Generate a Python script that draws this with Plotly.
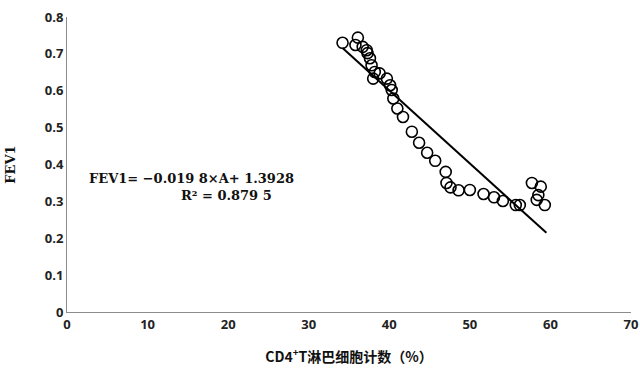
import plotly.graph_objects as go

# Data
cd4_pct = [34.2, 36.1, 35.8, 36.7, 37.2, 37.3, 37.6, 37.8, 38.2, 38.0, 38.8, 39.7,
           40.1, 40.3, 40.5, 41.0, 41.7, 42.8, 43.7, 44.7, 45.7, 47.0, 47.1, 47.6,
           48.6, 50.0, 51.7, 53.0, 54.1, 55.7, 56.2, 57.7, 58.8, 58.3, 58.5, 59.3]
fev1 = [0.730, 0.744, 0.724, 0.719, 0.710, 0.702, 0.688, 0.669, 0.651, 0.633, 0.647, 0.633,
        0.615, 0.602, 0.579, 0.552, 0.529, 0.489, 0.459, 0.432, 0.410, 0.380, 0.350, 0.338,
        0.330, 0.331, 0.320, 0.311, 0.301, 0.290, 0.290, 0.350, 0.340, 0.304, 0.317, 0.290]

slope = -0.0198
intercept = 1.3928
x_ticks = [0, 10, 20, 30, 40, 50, 60, 70]
y_ticks = [0, 0.1, 0.2, 0.3, 0.4, 0.5, 0.6, 0.7, 0.8]
y_tick_labels = ["0", "0.1", "0.2", "0.3", "0.4", "0.5", "0.6", "0.7", "0.8"]

x_line = [min(cd4_pct), max(cd4_pct) + 0.2]
y_line = [slope * v + intercept for v in x_line]

fig = go.Figure()
fig.add_trace(go.Scatter(
    x=cd4_pct, y=fev1, mode="markers",
    marker=dict(symbol="circle-open", size=11, color="black", line=dict(width=1.6, color="black")),
    showlegend=False,
))
fig.add_trace(go.Scatter(
    x=x_line, y=y_line, mode="lines",
    line=dict(color="black", width=2), showlegend=False,
))

tick_font = dict(family="Open Sans", size=13, color="#222222", weight="bold")
serif_font = dict(family="DejaVu Serif", size=13, color="#111111", weight="bold")

W, H = 640, 381
plot_l, plot_r, plot_t, plot_b = 67, 631, 17, 312

fig.update_layout(
    width=W, height=H,
    margin=dict(l=plot_l, r=W - plot_r, t=plot_t, b=H - plot_b),
    paper_bgcolor="white", plot_bgcolor="white",
    xaxis=dict(range=[0, 70], tickvals=x_ticks, showgrid=False, zeroline=False,
               showline=True, linecolor="#8c8c8c", linewidth=1, ticks="",
               tickfont=tick_font, automargin=False, ticklabeloverflow="allow",
               title=dict(text="CD4<sup>+</sup>T淋巴细胞计数（%）",
                          font=dict(family="Noto Sans CJK SC", size=14, color="#111111", weight="bold"),
                          standoff=20)),
    yaxis=dict(range=[0, 0.8], tickvals=y_ticks, ticktext=y_tick_labels, showgrid=False, zeroline=False,
               showline=True, linecolor="#8c8c8c", linewidth=1, ticks="",
               tickfont=tick_font, automargin=False, ticklabeloverflow="allow",
               title=dict(text="FEV1", font=serif_font, standoff=26)),
)

annotations = [
    ("FEV1= −0.019 8×A+ 1.3928", 87, 178),
    ("R² = 0.879 5", 179, 195),
]
for text, px, py in annotations:
    fig.add_annotation(
        text=text, xref="paper", yref="paper",
        x=(px - plot_l) / (plot_r - plot_l), y=(plot_b - py) / (plot_b - plot_t),
        showarrow=False, xanchor="left", yanchor="middle", font=serif_font,
    )

fig.write_html("out.html", config={"displayModeBar": False},
               post_script="document.body.style.margin='0';document.body.style.overflow='hidden';")
